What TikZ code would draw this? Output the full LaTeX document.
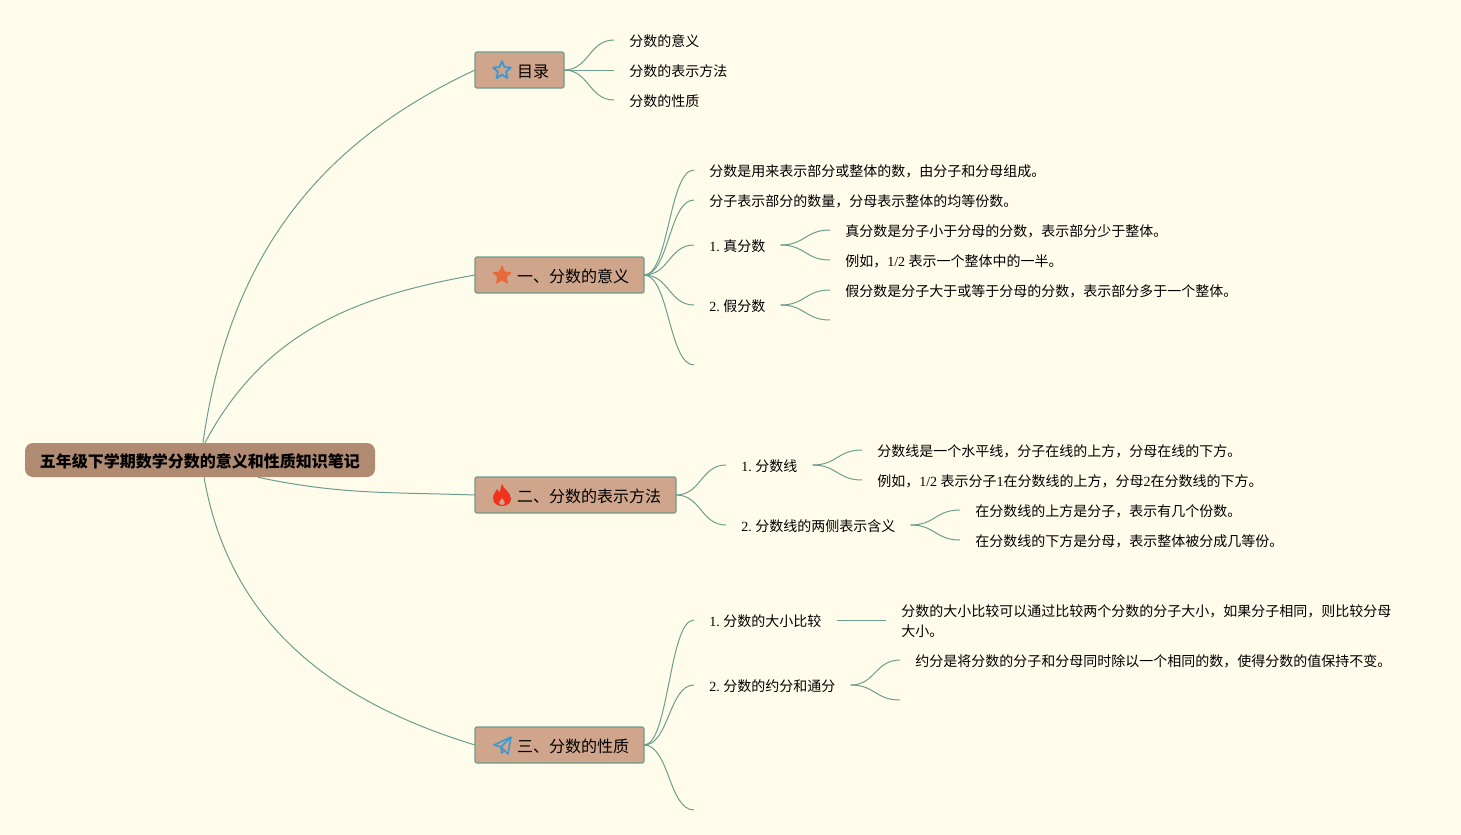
\documentclass[tikz,border=0pt]{standalone}
\usepackage{fontspec}
\setmainfont{Liberation Serif}
\newfontfamily\cjk{Noto Sans CJK SC}
\frenchspacing
\usetikzlibrary{calc, shapes.geometric}
\definecolor{PaperBg}{HTML}{FFFCEB}
\definecolor{RootFill}{HTML}{B08B72}
\definecolor{TopicFill}{HTML}{CFA58C}
\definecolor{LineGreen}{HTML}{6C9E8F}
\definecolor{IconBlue}{HTML}{3D9AD1}
\definecolor{IconOrange}{HTML}{E8693A}
\definecolor{IconRed}{HTML}{F0331C}
\newcommand{\lat}[1]{{\rmfamily #1}}
\tikzset{
  % Nodi della mappa
  node root/.style={anchor=center,fill=RootFill,rounded corners=6,minimum width=262.5pt,minimum height=25.5pt,inner sep=0,text height=11.25pt,text depth=0.75pt,font=\cjk\fontsize{12}{15}\selectfont\bfseries},
  node topic/.style={anchor=west,draw=LineGreen,fill=TopicFill,line width=0.9pt,rounded corners=1.5,outer sep=0,minimum height=27pt,inner ysep=0,inner xsep=11.25pt,text height=12pt,text depth=0.75pt,font=\cjk\fontsize{12}{15}\selectfont,execute at begin node={\hspace*{20.25pt}}},
  node leaf/.style={anchor=west,inner ysep=0,inner xsep=11.25pt,text height=10pt,text depth=0.5pt,font=\cjk\fontsize{10.5}{15}\selectfont},
  node multi/.style={anchor=west,align=left,inner ysep=0,inner xsep=11.25pt,font=\cjk\fontsize{10.5}{15}\selectfont},
  % Connessioni
  connect/.style={LineGreen,line width=0.75pt},
  bend link/.style={connect,to path={.. controls ($(\tikztostart)!.5!(\tikztotarget|-\tikztostart)$) and ($(\tikztotarget)!.5!(\tikztostart|-\tikztotarget)$) .. (\tikztotarget)}},
  % Icone
  icon star/.style={star,star points=5,star point ratio=2.2,minimum size=13.5pt,inner sep=0,line join=round}
}
\begin{document}
\begin{tikzpicture}[x=0.75pt,y=-0.75pt]
  \fill[PaperBg] (0,0) rectangle (1461,835);
  \useasboundingbox (0,0) rectangle (1461,835);

  % Radice e rami principali
  \node[node root] (root) at (200,460) {五年级下学期数学分数的意义和性质知识笔记};
  \node[node topic] (mulu) at (475,70) {目录};
  \node[node topic] (yi) at (475,275) {一、分数的意义};
  \node[node topic] (er) at (475,495) {二、分数的表示方法};
  \node[node topic] (san) at (475,745) {三、分数的性质};
  \draw[connect] ($(root.north)+(3,0)$) to[out=82,in=205] (mulu.west);
  \draw[connect] ($(root.north)+(5,0)$) to[out=62,in=190] (yi.west);
  \draw[connect] ($(root.south)+(58,0)$) to[out=-12,in=178] (er.west);
  \draw[connect] ($(root.south)+(4,0)$) to[out=-80,in=163] (san.west);

  % Icone
  \node[icon star,draw=IconBlue,line width=1.4pt,minimum size=14pt] (staro) at ($(mulu.west)+(27,0.5)$) {};
  \node[icon star,draw=IconOrange,fill=IconOrange,line width=1pt] (starf) at ($(yi.west)+(27,0.5)$) {};
  \fill[IconRed,even odd rule,shift={($(er.west)+(27,0)$)}]
    (0,-11) .. controls (1,-6) and (9,-3) .. (9,4) .. controls (9,9) and (4,11) .. (0,11)
    .. controls (-4,11) and (-9,9) .. (-9,3) .. controls (-9,-1) and (-6,-3) .. (-5,-6)
    .. controls (-4,-4) and (-3,-3) .. (-2,-3) .. controls (-1,-6) and (-2,-8) .. (0,-11)
    (0,3) .. controls (1,5) and (3,6) .. (3,8) .. controls (3,9.5) and (1,10) .. (0,10)
    .. controls (-1,10) and (-3,9.5) .. (-3,8) .. controls (-3,6) and (-1,5) .. (0,3);
  \draw[IconBlue,line width=1.2pt,line join=round,shift={($(san.west)+(27,0)$)}]
    (9,-8) -- (-8,0) -- (-1,2) -- (9,-8) -- (6,9) -- (-1,2) -- (-0.5,8) -- (3,5);

  % Indice
  \node[node leaf] (muluA) at (614,40) {分数的意义};
  \node[node leaf] (muluB) at (614,70) {分数的表示方法};
  \node[node leaf] (muluC) at (614,100) {分数的性质};
  \draw[bend link] (mulu.east) to (muluA.west);
  \draw[connect] (mulu.east) -- (muluB.west);
  \draw[bend link] (mulu.east) to (muluC.west);

  % Parte uno
  \node[node leaf] (yiA) at (694,170) {分数是用来表示部分或整体的数，由分子和分母组成。};
  \node[node leaf] (yiB) at (694,200) {分子表示部分的数量，分母表示整体的均等份数。};
  \node[node leaf] (zhen) at (694,245) {\lat{1. }真分数};
  \node[node leaf] (jia) at (694,305) {\lat{2. }假分数};
  \coordinate (yiE) at (694,365);
  \node[node leaf] (zhenA) at (830,230) {真分数是分子小于分母的分数，表示部分少于整体。};
  \node[node leaf] (zhenB) at (830,260) {例如，\lat{1/2 }表示一个整体中的一半。};
  \node[node leaf] (jiaA) at (830,290) {假分数是分子大于或等于分母的分数，表示部分多于一个整体。};
  \coordinate (jiaB) at (830,320);
  \foreach \kid in {yiA,yiB,zhen,jia} \draw[bend link] (yi.east) to (\kid.west);
  \draw[bend link] (yi.east) to (yiE);
  \draw[bend link] (zhen.east) to (zhenA.west);
  \draw[bend link] (zhen.east) to (zhenB.west);
  \draw[bend link] (jia.east) to (jiaA.west);
  \draw[bend link] (jia.east) to (jiaB);

  % Parte due
  \node[node leaf] (xian) at (726,465) {\lat{1. }分数线};
  \node[node leaf] (liang) at (726,525) {\lat{2. }分数线的两侧表示含义};
  \node[node leaf] (xianA) at (862,450) {分数线是一个水平线，分子在线的上方，分母在线的下方。};
  \node[node leaf] (xianB) at (862,480) {例如，\lat{1/2 }表示分子\lat{1}在分数线的上方，分母\lat{2}在分数线的下方。};
  \node[node leaf] (liangA) at (960,510) {在分数线的上方是分子，表示有几个份数。};
  \node[node leaf] (liangB) at (960,540) {在分数线的下方是分母，表示整体被分成几等份。};
  \draw[bend link] (er.east) to (xian.west);
  \draw[bend link] (er.east) to (liang.west);
  \draw[bend link] (xian.east) to (xianA.west);
  \draw[bend link] (xian.east) to (xianB.west);
  \draw[bend link] (liang.east) to (liangA.west);
  \draw[bend link] (liang.east) to (liangB.west);

  % Parte tre
  \node[node leaf] (daxiao) at (694,620) {\lat{1. }分数的大小比较};
  \node[node leaf] (yuetong) at (694,685) {\lat{2. }分数的约分和通分};
  \coordinate (sanE) at (694,810);
  \node[node multi] (daxiaoA) at (886,621) {分数的大小比较可以通过比较两个分数的分子大小，如果分子相同，则比较分母\\大小。};
  \node[node leaf] (yuetongA) at (900,660) {约分是将分数的分子和分母同时除以一个相同的数，使得分数的值保持不变。};
  \coordinate (yuetongB) at (900,700);
  \draw[bend link] (san.east) to (daxiao.west);
  \draw[bend link] (san.east) to (yuetong.west);
  \draw[bend link] (san.east) to (sanE);
  \draw[connect] (daxiao.east) -- (daxiaoA.west |- daxiao.east);
  \draw[bend link] (yuetong.east) to (yuetongA.west);
  \draw[bend link] (yuetong.east) to (yuetongB);
\end{tikzpicture}
\end{document}
